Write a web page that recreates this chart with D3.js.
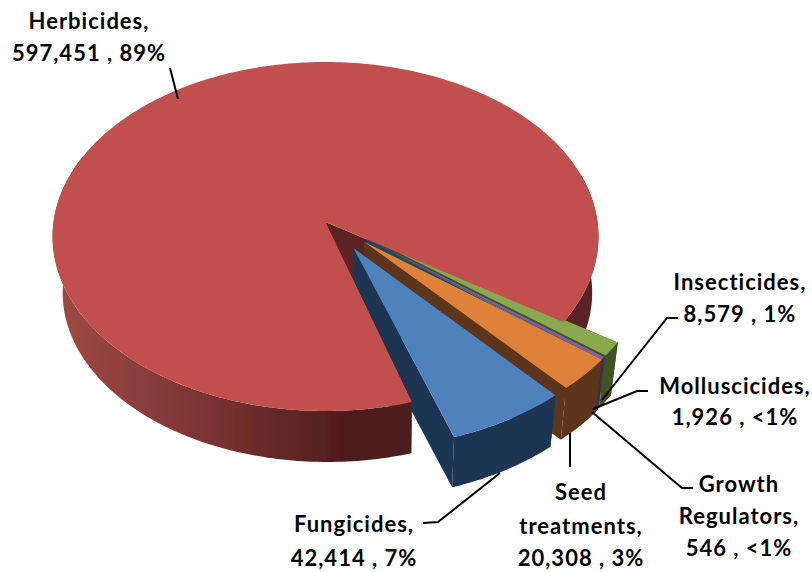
<!DOCTYPE html>
<html>
<head>
<meta charset="utf-8">
<script src="https://cdn.jsdelivr.net/npm/d3@7"></script>
<style>
  html, body { margin: 0; padding: 0; background: #fff; }
  text { font-family: Lato, "Open Sans", sans-serif; font-weight: 700; font-size: 22px; letter-spacing: 1px; fill: #000; text-anchor: middle; }
</style>
</head>
<body>
<svg id="chart" width="812" height="572"></svg>
<script>
// Clockwise from the lower edge of the big slice
const names = ["Herbicides", "Insecticides", "Molluscicides", "Growth Regulators", "Seed treatments", "Fungicides"];
const values = [597451, 8579, 1926, 546, 20308, 42414];
const shares = ["89%", "1%", "<1%", "<1%", "3%", "7%"];
const topColors = ["#C0504D", "#8AA94F", "#7F60A2", "#4BACC6", "#DE823A", "#4F81BD"];
const sideColors = ["#5A2020", "#3F5221", "#3C2D55", "#1F4A5C", "#5B351A", "#1F3552"];

// label text split per line, and where each block sits
const labelLines = [["Herbicides,"], ["Insecticides,"], ["Molluscicides,"], ["Growth", "Regulators,"], ["Seed", "treatments,"], ["Fungicides,"]];
const labelX = [[89, 89], [740, 740], [735, 735], [739, 739, 739], [581, 581, 581], [354, 354]];
const labelY = [[21, 53], [282, 314], [386, 417], [484, 516, 548], [492, 526, 558], [524, 558]];
const leaders = [
  [[170, 68], [178, 99]],
  [[678, 318], [667, 318], [602, 400]],
  [[648, 391], [637, 391], [593, 409]],
  [[693, 488], [682, 488], [592, 412]],
  [[570, 467], [570, 433]],
  [[423, 523], [438, 522], [500, 473]]
];

const svg = d3.select("#chart");

// Fake 3D: the pie is a unit circle tilted away from the viewer
const cx = 325.5, cy = 222, rx = 272, ry = 173.3, persp = 0.083;
const explode = 0.18;
const explodeTurn = -6; // slices were pulled out a bit off their middle angle
const smallRadius = 1.03;
const fanTurn = [0, 0, 0, 0, -1.5, -1.5]; // degrees, closes the fan up like the picture
const toRad = Math.PI / 180;

function project(u, v) {
  const s = 1 / (1 - persp * v);
  return [cx + rx * u * s, cy + ry * v * s];
}
// bottom face is a bit further away, shrink towards a vanishing point
function lower(p) {
  const vx = 390, vy = 2111, k = 0.97;
  return [vx + (p[0] - vx) * k, vy + (p[1] - vy) * k];
}

const arcs = d3.pie().sort(null).startAngle(163 * toRad).endAngle(523 * toRad)(values);
const line = d3.line();

function offsetOf(d) {
  if (d.index === 0) return [0, 0];
  const mid = (d.startAngle + d.endAngle) / 2 + explodeTurn * toRad;
  return [explode * Math.sin(mid), -explode * Math.cos(mid)];
}
function arcPoints(d, a0, a1) {
  const [ox, oy] = offsetOf(d);
  const r = d.index === 0 ? 1 : smallRadius;
  const turn = fanTurn[d.index] * toRad;
  const n = Math.max(2, Math.ceil(Math.abs(a1 - a0) / (1 * toRad)));
  return d3.range(n + 1).map(i => {
    const a = a0 + (a1 - a0) * i / n + turn;
    return project(ox + r * Math.sin(a), oy - r * Math.cos(a));
  });
}
function apex(d) {
  const [ox, oy] = offsetOf(d);
  return project(ox, oy);
}
const band = pts => line(pts.concat(pts.map(lower).reverse())) + "Z";

const defs = svg.append("defs");
defs.append("filter").attr("id", "soft")
  .append("feGaussianBlur").attr("stdDeviation", 0.5);
const grad = defs.append("linearGradient").attr("id", "rimLeft")
  .attr("gradientUnits", "userSpaceOnUse")
  .attr("x1", 60).attr("x2", 400).attr("y1", 0).attr("y2", 0);
grad.append("stop").attr("offset", 0).attr("stop-color", "#9E4845");
grad.append("stop").attr("offset", 0.45).attr("stop-color", "#793331");
grad.append("stop").attr("offset", 0.85).attr("stop-color", "#4E1C1C");
const pie = svg.append("g").attr("filter", "url(#soft)");

const red = arcs[0];
const small = arcs.slice(1);

// back of the big slice: wall behind the gap and the right rim
pie.append("path")
  .attr("d", band([apex(red)].concat(arcPoints(red, red.endAngle, red.endAngle))))
  .attr("fill", sideColors[0]);
pie.append("path")
  .attr("d", band(arcPoints(red, red.endAngle - 50 * toRad, red.endAngle)))
  .attr("fill", sideColors[0]);

// small slices, top one first so the lower ones paint over its walls
small.forEach(d => {
  const g = pie.append("g");
  const pts = arcPoints(d, d.startAngle, d.endAngle);
  const a = apex(d);
  g.append("path").attr("d", band([a, pts[pts.length - 1]])).attr("fill", sideColors[d.index]);
  g.append("path").attr("d", band([a, pts[0]])).attr("fill", sideColors[d.index]);
  g.append("path").attr("d", band(pts)).attr("fill", sideColors[d.index]);
  g.append("path").attr("d", line([a].concat(pts)) + "Z").attr("fill", topColors[d.index]);
});

// front of the big slice goes last, it covers the blue wall in the picture
pie.append("path")
  .attr("d", band([apex(red)].concat(arcPoints(red, red.startAngle, red.startAngle))))
  .attr("fill", sideColors[0]);
pie.append("path")
  .attr("d", band(arcPoints(red, red.startAngle, red.startAngle + 130 * toRad)))
  .attr("fill", "url(#rimLeft)");
pie.append("path")
  .attr("d", line([apex(red)].concat(arcPoints(red, red.startAngle, red.endAngle))) + "Z")
  .attr("fill", topColors[0]);

// Leader lines
svg.append("g").selectAll("path").data(leaders).enter().append("path")
  .attr("d", d => line(d))
  .attr("fill", "none")
  .attr("stroke", "#000")
  .attr("stroke-width", 2);

// Labels
const fmt = d3.format(",");
names.forEach((name, i) => {
  const rows = labelLines[i].concat([fmt(values[i]) + " , " + shares[i]]);
  rows.forEach((row, j) => {
    svg.append("text")
      .attr("x", labelX[i][j])
      .attr("y", labelY[i][j] + 7.5)
      .text(row);
  });
});
</script>
</body>
</html>
